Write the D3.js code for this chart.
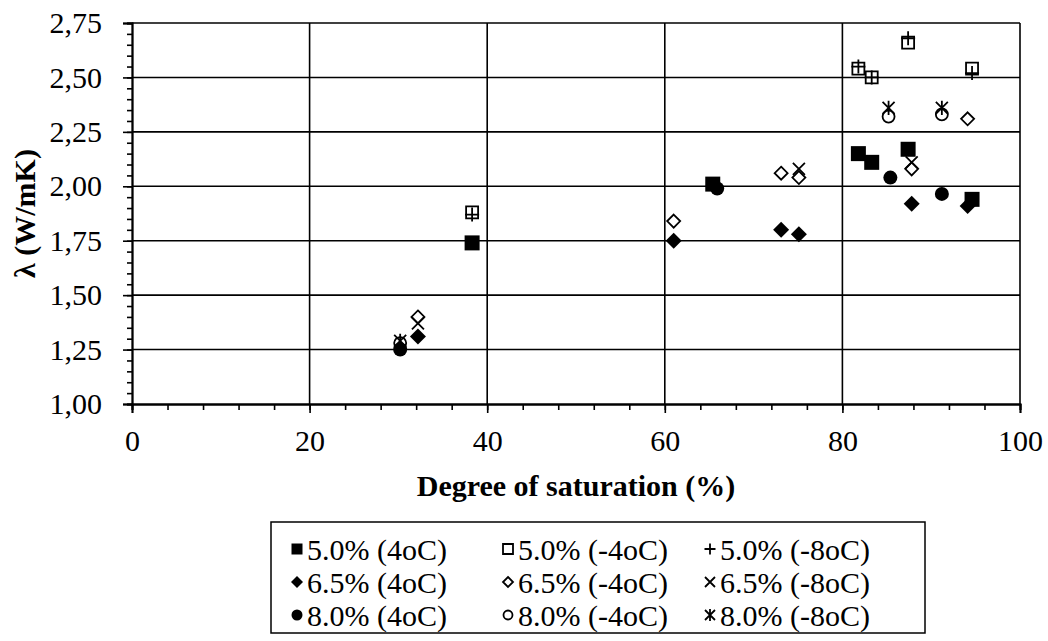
<!DOCTYPE html>
<html>
<head>
<meta charset="utf-8">
<script src="https://cdn.jsdelivr.net/npm/d3@7"></script>
<style>
  body { margin: 0; background: #fff; }
  svg { display: block; }
  .lbl { font: 30px "Liberation Serif", "Times New Roman", FreeSerif, serif; fill: #000; }
  .ttl { font: bold 30px "Liberation Serif", "Times New Roman", FreeSerif, serif; fill: #000; }
</style>
</head>
<body>
<svg id="chart" width="1048" height="641"></svg>
<script>
// axis ticks
const xTicks = [0, 20, 40, 60, 80, 100];
const yTicks = [1.00, 1.25, 1.50, 1.75, 2.00, 2.25, 2.50, 2.75];

// series, [degree of saturation %, lambda W/mK]
const s50_p4 = [[38.3, 1.74], [65.4, 2.01], [81.8, 2.15], [83.3, 2.11], [87.4, 2.17], [94.6, 1.94]];
const s50_m4 = [[38.3, 1.88], [81.8, 2.54], [83.3, 2.50], [87.4, 2.66], [94.6, 2.54]];
const s50_m8 = [[38.3, 1.87], [81.8, 2.55], [83.3, 2.50], [87.4, 2.68], [94.6, 2.52]];
const s65_p4 = [[32.2, 1.31], [61.0, 1.75], [73.1, 1.80], [75.1, 1.78], [87.8, 1.92], [94.1, 1.91]];
const s65_m4 = [[32.2, 1.40], [61.0, 1.84], [73.1, 2.06], [75.1, 2.04], [87.8, 2.08], [94.1, 2.31]];
const s65_m8 = [[32.2, 1.37], [75.1, 2.08], [87.8, 2.11]];
const s80_p4 = [[30.2, 1.25], [65.9, 1.99], [85.4, 2.04], [91.2, 1.965]];
const s80_m4 = [[30.2, 1.28], [85.2, 2.32], [91.2, 2.33]];
const s80_m8 = [[30.2, 1.29], [85.2, 2.36], [91.2, 2.36]];

const seriesLabels = ["5.0% (4oC)", "5.0% (-4oC)", "5.0% (-8oC)",
                      "6.5% (4oC)", "6.5% (-4oC)", "6.5% (-8oC)",
                      "8.0% (4oC)", "8.0% (-4oC)", "8.0% (-8oC)"];
const seriesData = [s50_p4, s50_m4, s50_m8, s65_p4, s65_m4, s65_m8, s80_p4, s80_m4, s80_m8];

// marker styles (same order as labels)
const shapes = ["square", "square", "plus", "diamond", "diamond", "cross", "circle", "circle", "star"];
const filled = [true, false, false, true, false, false, true, false, false];
const plotR = [7.5, 6, 7, 8, 6.5, 6, 7, 6, 6];
const legendR = [5.5, 5, 5.5, 6, 5, 5, 5.5, 4.5, 5];

const svg = d3.select("#chart");
const plotLeft = 132, plotRight = 1020, plotTop = 23, plotBottom = 404;

const x = d3.scaleLinear().domain([0, 100]).range([plotLeft, plotRight]);
const y = d3.scaleLinear().domain([1, 2.75]).range([plotBottom, plotTop]);

function markerPath(kind, r) {
  const p = d3.path();
  if (kind === "square") {
    p.rect(-r, -r, 2 * r, 2 * r);
  } else if (kind === "diamond") {
    p.moveTo(0, -r); p.lineTo(r, 0); p.lineTo(0, r); p.lineTo(-r, 0); p.closePath();
  } else if (kind === "circle") {
    p.moveTo(r, 0); p.arc(0, 0, r, 0, 2 * Math.PI);
  } else if (kind === "plus") {
    p.moveTo(-r, 0); p.lineTo(r, 0); p.moveTo(0, -r); p.lineTo(0, r);
  } else if (kind === "cross") {
    p.moveTo(-r, -r); p.lineTo(r, r); p.moveTo(-r, r); p.lineTo(r, -r);
  } else if (kind === "star") {
    p.moveTo(-r, -r); p.lineTo(r, r); p.moveTo(-r, r); p.lineTo(r, -r);
    p.moveTo(0, -r * 1.2); p.lineTo(0, r * 1.2);
  }
  return p.toString();
}

function styleMarker(sel, i) {
  sel.attr("fill", filled[i] ? "#000" : "none")
    .attr("stroke", "#000")
    .attr("stroke-width", filled[i] ? 0 : 1.8);
}

// gridlines
const grid = svg.append("g");
grid.selectAll(".hgrid")
  .data(yTicks.slice(1))
  .join("line")
  .attr("x1", plotLeft).attr("x2", plotRight)
  .attr("y1", d => y(d)).attr("y2", d => y(d))
  .attr("stroke", "#000").attr("stroke-width", 1.6);
grid.selectAll(".vgrid")
  .data(xTicks.slice(1))
  .join("line")
  .attr("x1", d => x(d)).attr("x2", d => x(d))
  .attr("y1", plotTop).attr("y2", plotBottom)
  .attr("stroke", "#000").attr("stroke-width", 1.6);

// axes
const fmtY = d => d3.format(".2f")(d).replace(".", ",");

const xMinor = svg.append("g").attr("transform", `translate(0,${plotBottom})`)
  .call(d3.axisBottom(x).tickValues(d3.range(0, 101, 4)).tickSize(6).tickFormat(""));
const xAxis = svg.append("g").attr("transform", `translate(0,${plotBottom})`)
  .call(d3.axisBottom(x).tickValues(xTicks).tickSize(9).tickPadding(17).tickFormat(d3.format("d")));
const yMinor = svg.append("g").attr("transform", `translate(${plotLeft},0)`)
  .call(d3.axisLeft(y).tickValues(d3.range(1, 2.76, 0.05)).tickSize(5).tickFormat(""));
const yAxis = svg.append("g").attr("transform", `translate(${plotLeft},0)`)
  .call(d3.axisLeft(y).tickValues(yTicks).tickSize(9).tickPadding(21).tickFormat(fmtY));

[xMinor, xAxis, yMinor, yAxis].forEach(g => {
  g.attr("font-family", null).attr("font-size", null);
  g.select(".domain").attr("stroke", "#000").attr("stroke-width", 1.8);
  g.selectAll(".tick line").attr("stroke", "#000").attr("stroke-width", 1.6);
  g.selectAll("text").attr("class", "lbl").attr("fill", null);
});

// titles
svg.append("text")
  .attr("class", "ttl")
  .attr("x", (plotLeft + plotRight) / 2).attr("y", 496)
  .attr("text-anchor", "middle")
  .text("Degree of saturation (%)");
svg.append("text")
  .attr("class", "ttl")
  .attr("transform", `translate(35,${(plotTop + plotBottom) / 2}) rotate(-90)`)
  .attr("text-anchor", "middle")
  .text("λ (W/mK)");

// points
const pts = svg.append("g");
seriesData.forEach((data, i) => {
  pts.append("g").selectAll("path")
    .data(data)
    .join("path")
    .attr("transform", d => `translate(${x(d[0])},${y(d[1])})`)
    .attr("d", markerPath(shapes[i], plotR[i]))
    .call(styleMarker, i);
});

// legend
const legend = svg.append("g");
legend.append("rect")
  .attr("x", 271).attr("y", 522).attr("width", 654).attr("height", 111)
  .attr("fill", "none").attr("stroke", "#000").attr("stroke-width", 1.5);
const colX = [297, 508, 710];
const rowY = [549, 582, 615];
seriesLabels.forEach((label, i) => {
  const cx = colX[i % 3], cy = rowY[Math.floor(i / 3)];
  legend.append("path")
    .attr("transform", `translate(${cx},${cy})`)
    .attr("d", markerPath(shapes[i], legendR[i]))
    .call(styleMarker, i);
  legend.append("text")
    .attr("class", "lbl")
    .attr("x", cx + 10).attr("y", cy)
    .attr("dy", "0.35em")
    .text(label);
});
</script>
</body>
</html>
